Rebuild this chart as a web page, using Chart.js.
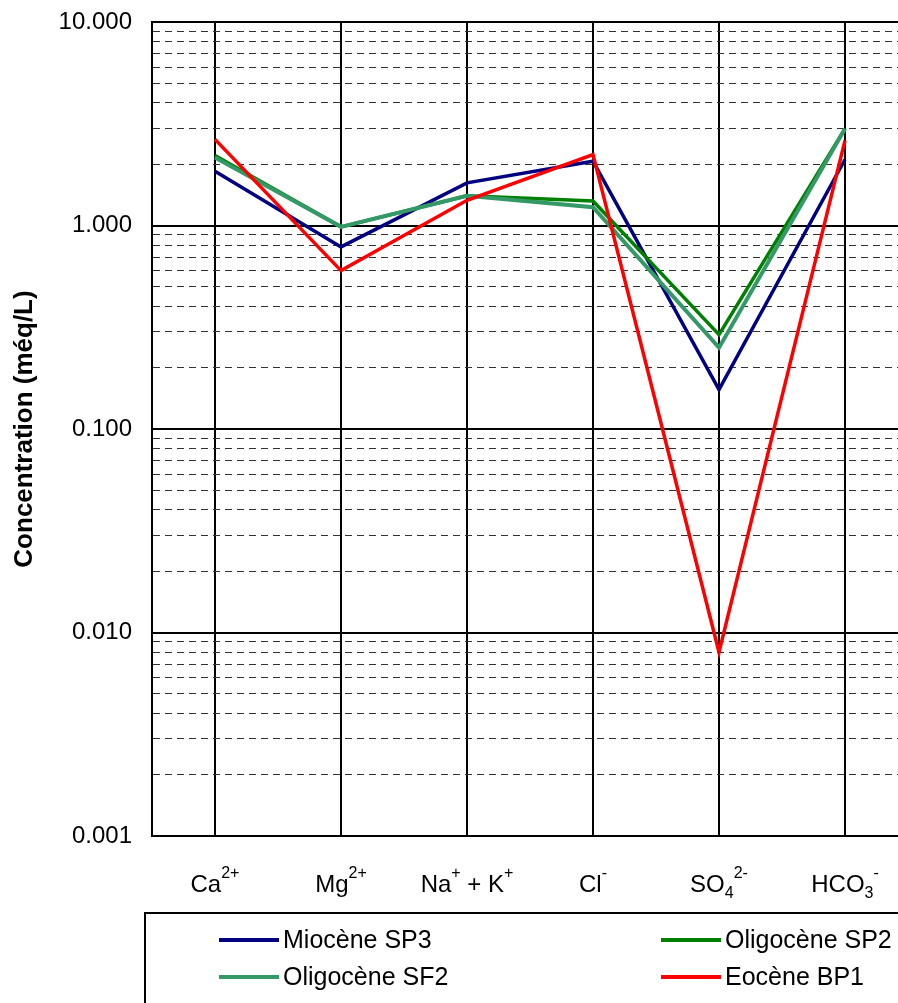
<!DOCTYPE html>
<html>
<head>
<meta charset="utf-8">
<script src="https://cdn.jsdelivr.net/npm/chart.js@4/dist/chart.umd.min.js"></script>
<style>
body { margin: 0; overflow: hidden; background: #fff; }
#wrap { width: 908px; height: 1003px; position: relative; }
</style>
</head>
<body>
<div id="wrap"><canvas id="chartIons"></canvas></div>
<script>
"use strict";

//--------------------------------data---------------------------------
const categories = ['Ca2+', 'Mg2+', 'Na+ + K+', 'Cl-', 'SO42-', 'HCO3-'];
// pieces of each label: [text, shift] -> 0 normal, 1 superscript, -1 subscript
const categoryParts = [
    [['Ca', 0], ['2+', 1]],
    [['Mg', 0], ['2+', 1]],
    [['Na', 0], ['+', 1], [' + K', 0], ['+', 1]],
    [['Cl', 0], ['-', 1]],
    [['SO', 0], ['4', -1], ['2-', 1]],
    [['HCO', 0], ['3', -1], ['-', 1]]
];

const miocSP3 = [1.85, 0.785, 1.62, 2.07, 0.156, 2.11];
const oligSP2 = [2.21, 0.985, 1.40, 1.32, 0.291, 2.99];
const oligSF2 = [2.16, 0.985, 1.40, 1.23, 0.251, 2.99];
const eocBP1 = [2.65, 0.60, 1.33, 2.23, 0.008, 2.62];

const seriesNames = ['Miocène SP3', 'Oligocène SP2', 'Oligocène SF2', 'Eocène BP1'];
const yDecades = [0.001, 0.01, 0.1, 1, 10];
const yTitle = 'Concentration (méq/L)';

const fontFam = "'Liberation Sans', Arial, sans-serif";

function isDecade(v) {
    const l = Math.log10(v);
    return Math.abs(l - Math.round(l)) < 1e-9;
}

//--------------------------------x labels with sup/sub---------------------------------
const xLabelPlugin = {
    id: 'xLabels',
    afterDraw(chart) {
        const ctx = chart.ctx;
        const xs = chart.scales.x;
        const base = chart.chartArea.bottom + 56;
        const bigFont = '24px ' + fontFam;
        const smallFont = '16px ' + fontFam;
        ctx.save();
        ctx.fillStyle = '#000';
        ctx.textBaseline = 'alphabetic';
        ctx.textAlign = 'left';
        categoryParts.forEach((parts, i) => {
            let w = 0;
            parts.forEach(p => {
                ctx.font = p[1] === 0 ? bigFont : smallFont;
                w += ctx.measureText(p[0]).width;
            });
            let x = xs.getPixelForTick(i) - w / 2;
            parts.forEach(p => {
                ctx.font = p[1] === 0 ? bigFont : smallFont;
                const dy = p[1] === 1 ? -14 : (p[1] === -1 ? 6 : 0);
                ctx.fillText(p[0], x, base + dy);
                x += ctx.measureText(p[0]).width;
            });
        });
        ctx.restore();
    }
};

//--------------------------------boxed legend---------------------------------
const boxLegendPlugin = {
    id: 'boxLegend',
    afterDraw(chart) {
        const ctx = chart.ctx;
        const top = chart.chartArea.bottom + 77;
        ctx.save();
        ctx.strokeStyle = '#000';
        ctx.lineWidth = 2;
        ctx.strokeRect(145, top, 900, 200);
        ctx.font = '25px ' + fontFam;
        ctx.textBaseline = 'middle';
        ctx.textAlign = 'left';
        chart.data.datasets.forEach((ds, i) => {
            const col = i % 2;
            const row = Math.floor(i / 2);
            const x = col === 0 ? 219 : 661;
            const y = top + 27 + row * 37;
            ctx.strokeStyle = ds.borderColor;
            ctx.lineWidth = 4;
            ctx.beginPath();
            ctx.moveTo(x, y);
            ctx.lineTo(x + 60, y);
            ctx.stroke();
            ctx.fillStyle = '#000';
            ctx.fillText(ds.label, x + 64, y + 1);
        });
        ctx.restore();
    }
};

//--------------------------------chart---------------------------------
const ions = document.getElementById('chartIons').getContext('2d');
var chartIons = new Chart(ions, {
    type: 'line',
    data: {
        labels: categories,
        datasets: [
            { label: seriesNames[0], data: miocSP3, borderColor: '#000080', borderWidth: 3.5, order: 3 },
            { label: seriesNames[1], data: oligSP2, borderColor: '#008000', borderWidth: 3.5, order: 2 },
            { label: seriesNames[2], data: oligSF2, borderColor: '#339966', borderWidth: 4, order: 1 },
            { label: seriesNames[3], data: eocBP1, borderColor: '#FF0000', borderWidth: 3.5, order: 0 }
        ]
    },
    options: {
        responsive: true,
        maintainAspectRatio: false,
        animation: false,
        elements: {
            point: { radius: 0, hoverRadius: 0 },
            line: { tension: 0, borderCapStyle: 'butt' }
        },
        layout: { padding: { top: 22, left: 0, right: 0, bottom: 0 } },
        plugins: {
            legend: { display: false },
            tooltip: { enabled: false }
        },
        scales: {
            x: {
                type: 'category',
                offset: true,
                grid: { color: '#000', lineWidth: 2, offset: false, drawTicks: false },
                border: { color: '#000', width: 2 },
                ticks: { display: false },
                afterFit(scale) { scale.height = 167; }
            },
            y: {
                type: 'logarithmic',
                min: yDecades[0],
                max: yDecades[yDecades.length - 1],
                afterBuildTicks(scale) {
                    const t = [];
                    for (let d = 0; d < yDecades.length - 1; d++) {
                        for (let m = 1; m <= 9; m++) {
                            t.push({ value: Number((m * yDecades[d]).toPrecision(6)) });
                        }
                    }
                    t.push({ value: yDecades[yDecades.length - 1] });
                    scale.ticks = t;
                },
                afterFit(scale) {
                    scale.width = 152;
                    scale.paddingTop = 0;
                    scale.paddingBottom = 0;
                },
                grid: {
                    color: c => (c.tick && !isDecade(c.tick.value)) ? '#333' : '#000',
                    lineWidth: c => (c.tick && !isDecade(c.tick.value)) ? 1 : 2,
                    drawTicks: false
                },
                border: {
                    color: '#000',
                    width: 2,
                    dash: c => (c.tick && !isDecade(c.tick.value)) ? [7, 5] : []
                },
                ticks: {
                    autoSkip: false,
                    padding: 20,
                    color: '#000',
                    font: { family: fontFam, size: 24 },
                    callback: v => isDecade(v) ? v.toFixed(3) : ''
                },
                title: {
                    display: true,
                    text: yTitle,
                    color: '#000',
                    font: { family: fontFam, size: 26, weight: 'bold' },
                    padding: { top: 9, bottom: 0 }
                }
            }
        }
    },
    plugins: [xLabelPlugin, boxLegendPlugin]
});
</script>
</body>
</html>
